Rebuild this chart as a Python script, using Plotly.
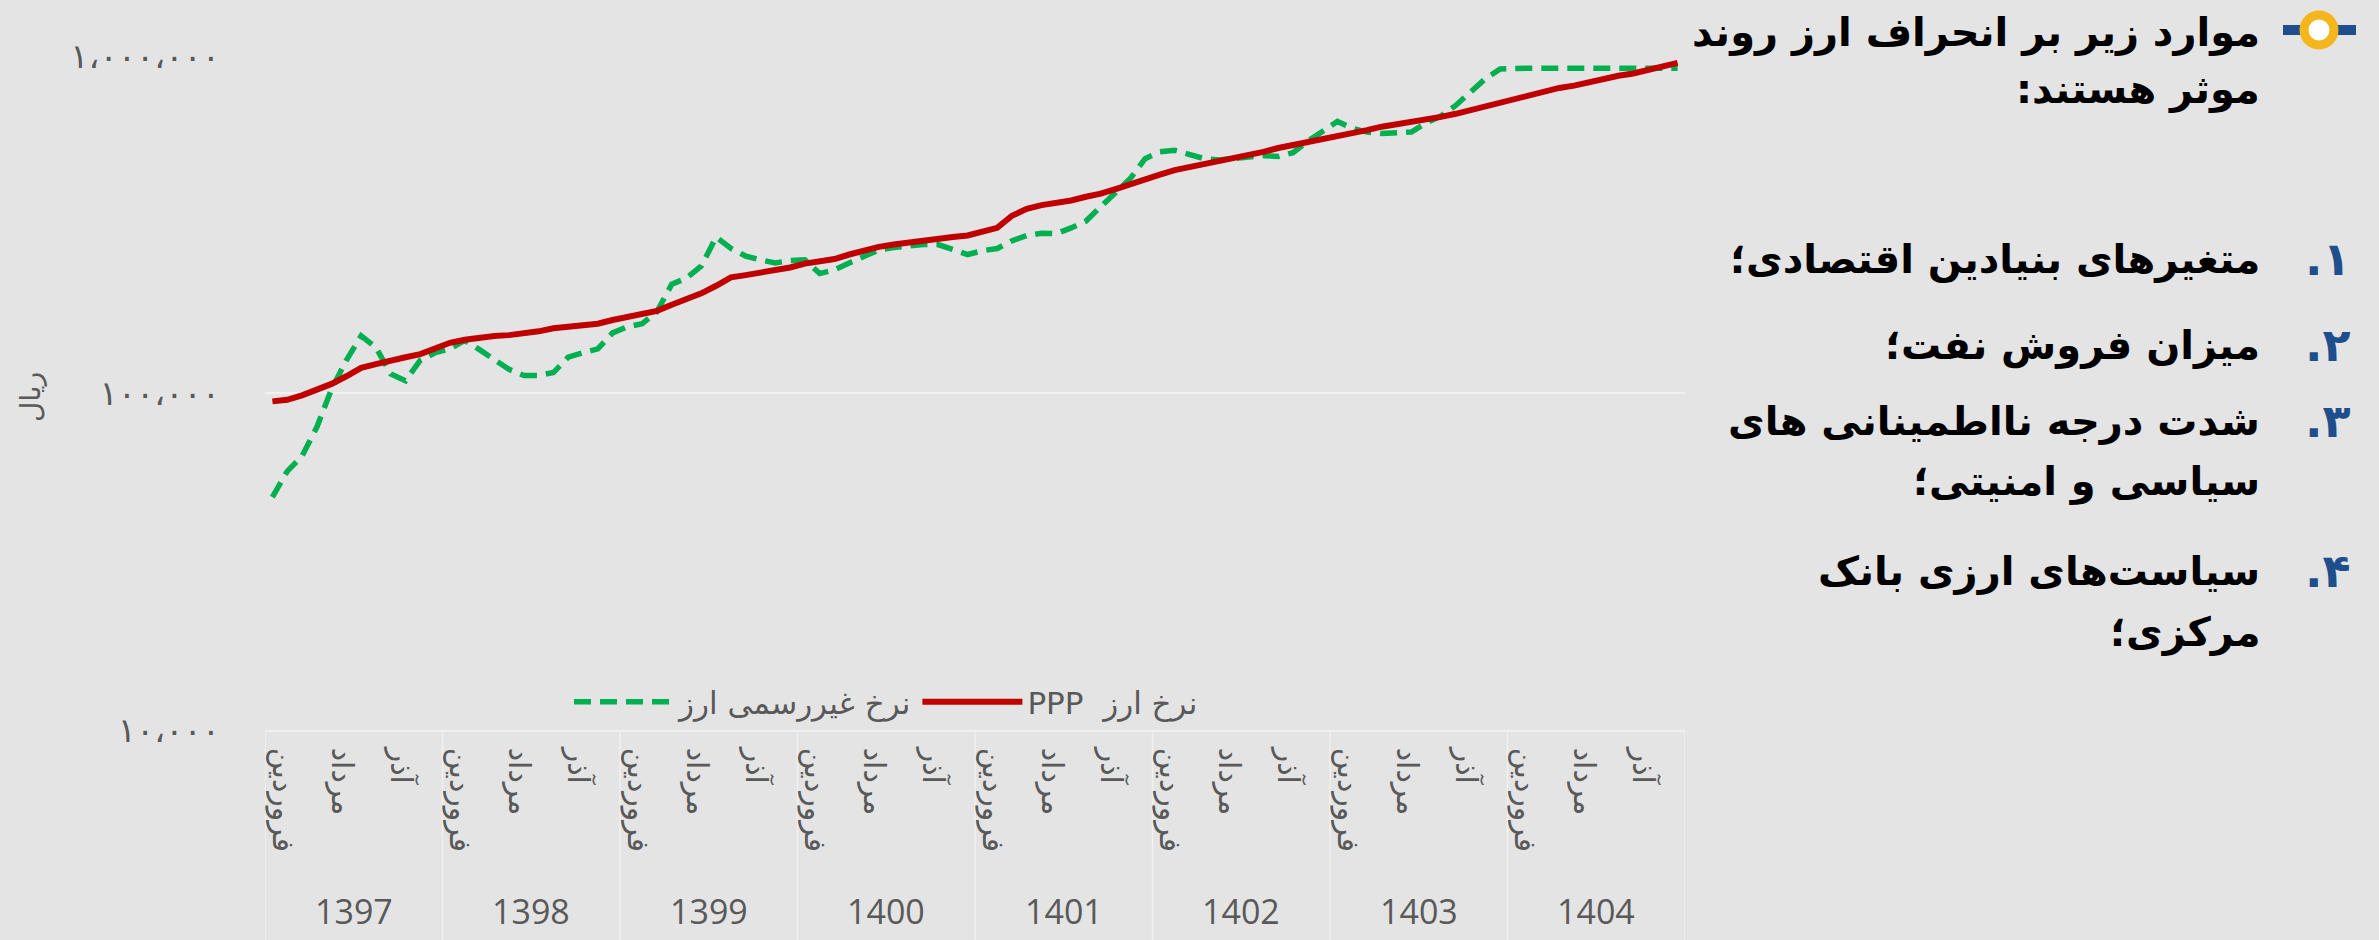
import plotly.graph_objects as go

# ---------------- data ----------------
years = ["1397", "1398", "1399", "1400", "1401", "1402", "1403", "1404"]
months = ["فروردین", "اردیبهشت", "خرداد", "تیر", "مرداد", "شهریور",
          "مهر", "آبان", "آذر", "دی", "بهمن", "اسفند"]
labelled_months = ["فروردین", "مرداد", "آذر"]

ppp_rate = [
    94450, 95430, 98450, 102100, 106400, 112100, 118700, 121800, 125100, 127700, 130400, 135900,
    140900, 143900, 146200, 147700, 148500, 150100, 152400, 155600, 157200, 158800, 160500, 164700,
    168200, 171700, 175300, 182800, 189500, 197600, 208100, 220400, 223800, 227400, 230900, 235800,
    242000, 245800, 249700, 257600, 265800, 271400, 275700, 279900, 282900, 285800, 290300, 293300,
    299500, 309000, 335700, 351800, 361100, 366700, 372500, 382300, 390300, 402700, 417600, 433100,
    444500, 458600, 468200, 475600, 485500, 498300, 508800, 519500, 533300, 544400, 553000, 561700,
    573600, 588700, 602800, 616900, 626400, 636300, 649600, 659900, 673700, 691400, 709600, 728300,
    747500, 767200, 787400, 803900, 816600, 838100, 855700, 873600, 887400, 910800, 929900, 954300,
]

free_rate = [
    49060, 58540, 64960, 79130, 102600, 125100, 147700, 136500, 113900, 108700, 125100, 131700,
    135200, 143200, 134500, 125100, 117500, 112700, 112700, 115000, 127700, 131700, 135200, 150800,
    157200, 160500, 174400, 210300, 219300, 238200, 290300, 268600, 254900, 248300, 243200, 247100,
    248300, 226200, 232100, 243200, 254900, 265800, 270000, 272800, 275700, 275700, 265800, 257600,
    264400, 268300, 282900, 293300, 297900, 297000, 309000, 323700, 357300, 394400, 433100, 495800,
    519500, 524900, 508800, 495800, 491600, 495800, 503500, 506100, 503500, 516800, 558800, 597800,
    639600, 610500, 594800, 588700, 591600, 594800, 633000, 663400, 713400, 783300, 855700, 915400,
    920300, 920300, 920300, 920300, 920300, 920300, 920300, 920300, 920300, 920300, 920300, 920300,
]

series_names = ["نرخ غیررسمی ارز", "PPP  نرخ ارز"]
y_tick_vals = [10000, 100000, 1000000]
y_tick_text = ["۱۰،۰۰۰", "۱۰۰،۰۰۰", "۱،۰۰۰،۰۰۰"]
y_title = "ریال"

title_lines = ["موارد زیر بر انحراف ارز روند", "موثر هستند:\u200f"]
item_numbers = ["\u200f۱.\u200f", "\u200f۲.\u200f", "\u200f۳.\u200f", "\u200f۴.\u200f"]
item_lines = [
    ["متغیرهای بنیادین اقتصادی؛"],
    ["میزان فروش نفت؛"],
    ["شدت درجه نااطمینانی های", "سیاسی و امنیتی؛"],
    ["سیاست‌های ارزی بانک", "مرکزی؛"],
]

# ---------------- layout helpers ----------------
W, H = 2379, 940
L, R, T, B = 265, 694, 56, 210
PW, PH = W - L - R, H - T - B


def px(x):
    return (x - L) / PW


def py(y):
    return (H - B - y) / PH


BG = "#e4e4e4"
GRID = "#f1f1f1"
AXIS_TXT = "#595959"
AR_FONT = "DejaVu Sans, Noto Sans, sans-serif"

categories = [f"{y} {m}" for y in years for m in months]
tick_vals = [c for c in categories if c.split(" ", 1)[1] in labelled_months]
tick_text = [c.split(" ", 1)[1] for c in tick_vals]

fig = go.Figure()
fig.add_trace(go.Scatter(
    x=categories, y=free_rate, name=series_names[0], mode="lines",
    line=dict(color="#00B050", width=5.5, dash="17px,9px"),
))
fig.add_trace(go.Scatter(
    x=categories, y=ppp_rate, name=series_names[1], mode="lines",
    line=dict(color="#C00000", width=6),
))

annotations = []
shapes = []

# year labels and dividers
nm = len(months)
for k, yr in enumerate(years):
    annotations.append(dict(
        x=k * nm + (nm - 1) / 2, y=0, xref="x", yref="paper",
        yshift=-(911 - (H - B)), text=yr, showarrow=False,
        font=dict(family="Open Sans, sans-serif", size=34, color=AXIS_TXT),
        xanchor="center", yanchor="middle",
    ))
for k in range(len(years) + 1):
    shapes.append(dict(
        type="line", xref="x", yref="paper",
        x0=k * nm - 0.5, x1=k * nm - 0.5, y0=0, y1=py(H),
        line=dict(color=GRID, width=1.5), layer="below",
    ))

# y-axis title
annotations.append(dict(
    x=0, y=py(397), xref="paper", yref="paper", xshift=30 - L,
    text=y_title, textangle=-90, showarrow=False,
    font=dict(family=AR_FONT, size=28, color=AXIS_TXT),
    xanchor="center", yanchor="middle",
))

# right-hand text panel
TEXT_RIGHT = 2262
NUM_RIGHT = 2353
title_y = [32, 90]
for line, yy in zip(title_lines, title_y):
    annotations.append(dict(
        x=px(TEXT_RIGHT), y=py(yy), xref="paper", yref="paper",
        text=line, showarrow=False, xanchor="right", yanchor="middle",
        font=dict(family=AR_FONT, size=40, color="#000000", weight="bold"),
    ))

item_y = [[259], [345], [421, 482], [571, 632]]
for num, lines, ys in zip(item_numbers, item_lines, item_y):
    annotations.append(dict(
        x=px(NUM_RIGHT), y=py(ys[0]), xref="paper", yref="paper",
        text=num, showarrow=False, xanchor="right", yanchor="middle",
        font=dict(family=AR_FONT, size=46, color="#1F4E8C", weight="bold"),
    ))
    for line, yy in zip(lines, ys):
        annotations.append(dict(
            x=px(TEXT_RIGHT), y=py(yy), xref="paper", yref="paper",
            text=line, showarrow=False, xanchor="right", yanchor="middle",
            font=dict(family=AR_FONT, size=40, color="#000000", weight="bold"),
        ))

# bullet icon: two short blue bars either side of a yellow ring with a white centre
icx, icy, rr = 2319, 30, 15
for x0, x1 in [(icx - 36, icx - 17), (icx + 17, icx + 37)]:
    shapes.append(dict(type="line", xref="paper", yref="paper",
                       x0=px(x0), x1=px(x1), y0=py(icy), y1=py(icy),
                       line=dict(color="#1F4E8C", width=10), layer="above"))
shapes.append(dict(type="circle", xref="paper", yref="paper",
                   x0=px(icx - rr), x1=px(icx + rr), y0=py(icy + rr), y1=py(icy - rr),
                   fillcolor="#ffffff", line=dict(color="#F5B51C", width=9), layer="above"))

fig.update_layout(
    width=W, height=H,
    margin=dict(l=L, r=R, t=T, b=B, autoexpand=False),
    paper_bgcolor=BG, plot_bgcolor=BG,
    showlegend=True,
    legend=dict(
        orientation="h", x=px(886), y=py(702), xanchor="center", yanchor="middle",
        bgcolor="rgba(0,0,0,0)", font=dict(family=AR_FONT, size=31, color=AXIS_TXT),
        itemwidth=100, traceorder="normal",
    ),
    xaxis=dict(
        type="category", categoryorder="array", categoryarray=categories,
        range=[-0.5, len(categories) - 0.5],
        tickmode="array", tickvals=tick_vals, ticktext=tick_text,
        tickangle=90, ticks="", showgrid=False, zeroline=False,
        showline=True, linecolor=GRID, linewidth=1.5,
        tickfont=dict(family=AR_FONT, size=30, color=AXIS_TXT),
        ticklabelstandoff=10, ticklabelshift=10,
    ),
    yaxis=dict(
        type="log", range=[4, 6],
        tickmode="array", tickvals=y_tick_vals, ticktext=y_tick_text,
        ticks="", showgrid=True, gridcolor=GRID, gridwidth=1.5,
        zeroline=False, showline=False,
        tickfont=dict(family=AR_FONT, size=34, color=AXIS_TXT),
        ticklabelstandoff=44,
    ),
    annotations=annotations,
    shapes=shapes,
)

fig.write_html(
    "out.html",
    config={"displayModeBar": False},
    post_script="document.body.style.margin='0';document.body.style.overflow='hidden';"
                "document.body.style.background='" + BG + "';",
)
